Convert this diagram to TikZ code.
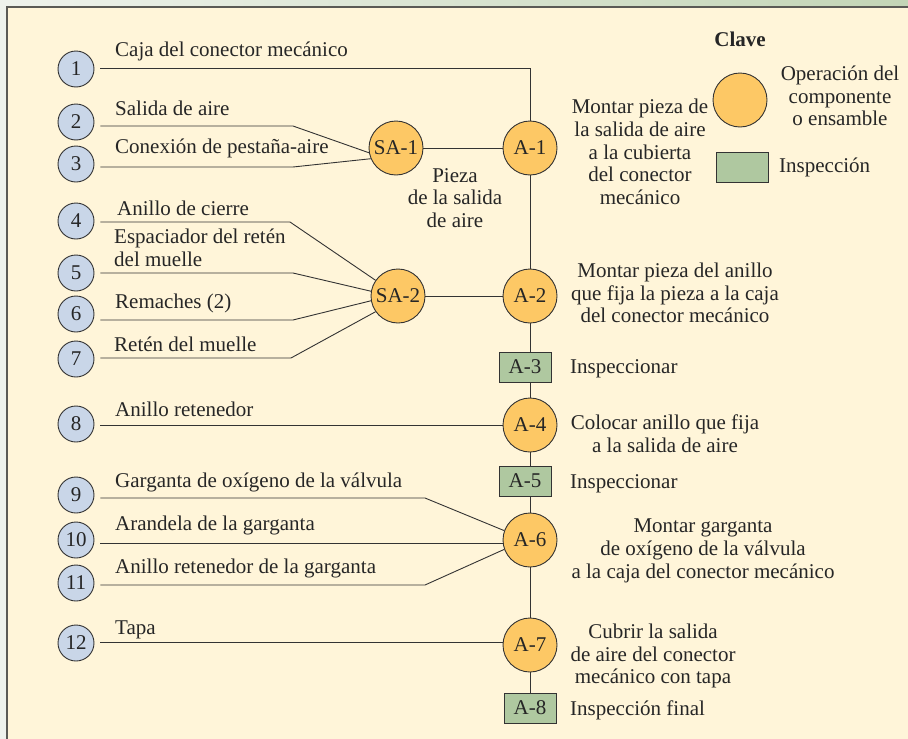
\documentclass[tikz,border=0pt]{standalone}
\usepackage{fontspec}
\setmainfont{Liberation Serif}
\definecolor{cream}{HTML}{FFF5D9}
\definecolor{opcol}{HTML}{FDC865}
\definecolor{partcol}{HTML}{C9D6E8}
\definecolor{inspcol}{HTML}{AFC8A0}
\definecolor{edge}{HTML}{333333}
\definecolor{framecol}{HTML}{5A5A55}
\definecolor{bandL}{HTML}{EEF2EC}
\definecolor{bandR}{HTML}{C3D5B6}
\begin{document}
\begin{tikzpicture}[x=1pt,y=-1pt,
  every node/.style={font=\fontsize{21}{22.7}\selectfont, text=black!85},
  part/.style={circle, draw=edge, line width=0.9pt, fill=partcol, minimum size=36pt, inner sep=0pt},
  oper/.style={circle, draw=edge, line width=0.9pt, fill=opcol, minimum size=54pt, inner sep=0pt},
  insp/.style={rectangle, draw=edge, line width=0.9pt, fill=inspcol, minimum width=52pt, minimum height=30pt, inner sep=0pt},
  conn/.style={draw=edge, line width=0.9pt},
  pconn/.style={conn, shorten <=6pt},
  lbl/.style={anchor=base west, inner sep=0pt},
  desc/.style={align=center, inner sep=0pt}]
\useasboundingbox (0,0) rectangle (908,739);
\shade[left color=bandL, right color=bandR] (0,0) rectangle (908,7);
\fill[bandL] (0,0) rectangle (7,739);
\fill[cream] (7,7) rectangle (908,739);
\draw[framecol, line width=1.6pt] (7,739) -- (7,7) -- (908,7);

% part circles
\node[part] (p1) at (76,69) {1};
\node[part] (p2) at (76,122) {2};
\node[part] (p3) at (76,164) {3};
\node[part] (p4) at (76,221) {4};
\node[part] (p5) at (76,273) {5};
\node[part] (p6) at (76,314) {6};
\node[part] (p7) at (76,359) {7};
\node[part] (p8) at (76,424) {8};
\node[part] (p9) at (76,495) {9};
\node[part] (p10) at (76,540) {10};
\node[part] (p11) at (76,583) {11};
\node[part] (p12) at (76,643) {12};

% operations
\node[oper] (sa1) at (396,148) {SA-1};
\node[oper] (sa2) at (398,296) {SA-2};
\node[oper] (a1) at (530,148) {A-1};
\node[oper] (a2) at (530,296) {A-2};
\node[insp] (a3) at (525,367) {A-3};
\node[oper] (a4) at (530,425) {A-4};
\node[insp] (a5) at (525,481) {A-5};
\node[oper] (a6) at (530,540) {A-6};
\node[oper] (a7) at (530,645) {A-7};
\node[insp] (a8) at (530,708) {A-8};

% main column
\coordinate (c1) at (530,68);
\draw[pconn] (p1.east |- 0,68) -- (c1) -- (a1.north);
\draw[conn] (a1) -- (a2);
\draw[conn] (a2) -- (a2 |- a3.north);
\draw[conn] (a2 |- a3.south) -- (a4.north);
\draw[conn] (a4.south) -- (a4 |- a5.north);
\draw[conn] (a4 |- a5.south) -- (a6.north);
\draw[conn] (a6) -- (a7);
\draw[conn] (a7.south) -- (a8.north);
\draw[conn] (sa1) -- (a1);
\draw[conn] (sa2) -- (a2);
\draw[pconn] (p8.east |- 0,425) -- (a4.west);
\draw[pconn] (p12.east |- 0,642) -- (a7.west |- 0,642);

% SA-1 inputs
\coordinate (k2) at (293,126);
\coordinate (k3) at (293,167);
\draw[pconn] (p2.east |- k2) -- (k2) -- (sa1.190);
\draw[pconn] (p3.east |- k3) -- (k3) -- (sa1.203);

% SA-2 inputs
\coordinate (k4) at (290,222);
\coordinate (k5) at (293,273);
\coordinate (k6) at (293,320);
\coordinate (k7) at (291,358);
\draw[pconn] (p4.east |- k4) -- (k4) -- (sa2.145);
\draw[pconn] (p5.east |- k5) -- (k5) -- (sa2.170);
\draw[pconn] (p6.east |- k6) -- (k6) -- (sa2.190);
\draw[pconn] (p7.east |- k7) -- (k7) -- (sa2.215);

% A-6 inputs
\coordinate (k9) at (425,498);
\coordinate (k11) at (425,585);
\draw[pconn] (p9.east |- k9) -- (k9) -- (a6.160);
\draw[pconn] (p10.east |- 0,543) -- (a6.west |- 0,543);
\draw[pconn] (p11.east |- k11) -- (k11) -- (a6.200);

% part labels
\node[lbl] (t1) at (115,56) {Caja del conector mecánico};
\node[lbl] (t2) at (115,115) {Salida de aire};
\node[lbl] (t3) at (115,153) {Conexión de pestaña-aire};
\node[lbl] (t4) at (117,215) {Anillo de cierre};
\node[lbl] (t5a) at (114,243) {Espaciador del retén};
\node[lbl] (t5b) at (114,266) {del muelle};
\node[lbl] (t6) at (115,308) {Remaches (2)};
\node[lbl] (t7) at (114,351) {Retén del muelle};
\node[lbl] (t8) at (115,416) {Anillo retenedor};
\node[lbl] (t9) at (115,487) {Garganta de oxígeno de la válvula};
\node[lbl] (t10) at (115,530) {Arandela de la garganta};
\node[lbl] (t11) at (115,573) {Anillo retenedor de la garganta};
\node[lbl] (t12) at (115,634) {Tapa};

\node[desc] (pz) at (455,198) {Pieza\\de la salida\\de aire};

% descriptions
\node[desc] (d1) at (640,152) {Montar pieza de\\la salida de aire\\a la cubierta\\del conector\\mecánico};
\node[desc] (d2) at (675,293) {Montar pieza del anillo\\que fija la pieza a la caja\\del conector mecánico};
\node[lbl] (d3) at (570,373) {Inspeccionar};
\node[desc] (d4) at (665,434) {Colocar anillo que fija\\a la salida de aire};
\node[lbl] (d5) at (570,488) {Inspeccionar};
\node[desc] (d6) at (703,551) {Montar garganta\\de oxígeno de la válvula\\a la caja del conector mecánico};
\node[desc] (d7) at (653,656) {Cubrir la salida\\de aire del conector\\mecánico con tapa};
\node[lbl] (d8) at (570,715) {Inspección final};

% legend
\node[font=\bfseries\fontsize{21}{22.7}\selectfont] (clave) at (740,39) {Clave};
\node[oper] (kop) at (740,100) {};
\node[desc] (kopt) at (840,96) {Operación del\\componente\\o ensamble};
\node[insp] (kin) at (742,167) {};
\node[lbl, anchor=west] (kint) at (779,167) {Inspección};
\end{tikzpicture}
\end{document}
